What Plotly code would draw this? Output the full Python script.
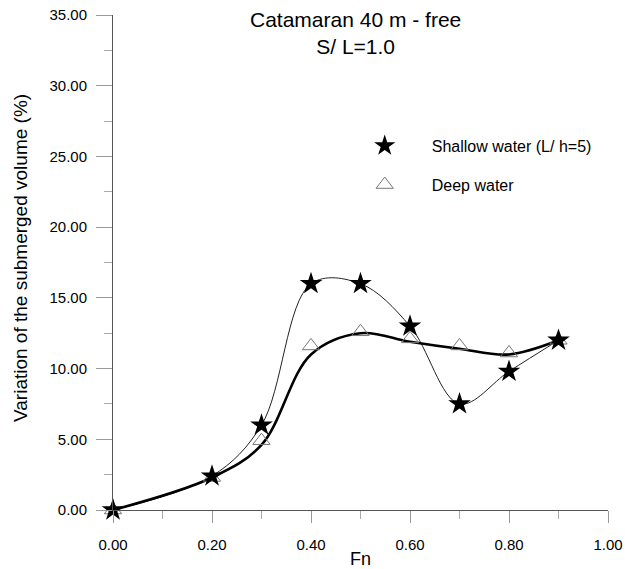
import plotly.graph_objects as go

fn = [0.0, 0.2, 0.3, 0.4, 0.5, 0.6, 0.7, 0.8, 0.9]
shallow = [0.0, 2.4, 6.0, 16.0, 16.0, 13.0, 7.5, 9.8, 12.0]
deep = [0.0, 2.3, 4.9, 11.6, 12.6, 12.1, 11.6, 11.1, 12.0]
deep_fit = [0.0, 2.3, 4.6, 11.0, 12.5, 11.9, 11.4, 11.0, 12.0]

FONT = "Liberation Sans, Arial, sans-serif"

fig = go.Figure()
fig.add_trace(go.Scatter(x=fn, y=shallow, mode="lines",
                         line=dict(color="#222", width=1, shape="spline", smoothing=1.0),
                         showlegend=False, hoverinfo="skip"))
fig.add_trace(go.Scatter(x=fn, y=deep_fit, mode="lines",
                         line=dict(color="#000", width=2.6, shape="spline", smoothing=1.0),
                         showlegend=False, hoverinfo="skip"))
fig.add_trace(go.Scatter(x=fn, y=deep, mode="markers", name="Deep water",
                         legendgroup="b", legendrank=2,
                         marker=dict(symbol="triangle-up-open", size=15,
                                     color="#777", line=dict(width=1, color="#777")),
                         cliponaxis=False))
fig.add_trace(go.Scatter(x=fn, y=shallow, mode="markers", name="Shallow water (L/ h=5)",
                         legendgroup="a", legendrank=1,
                         marker=dict(symbol="star", size=17, color="#000",
                                     line=dict(width=0)),
                         cliponaxis=False))

fig.update_layout(
    width=625, height=569,
    margin=dict(l=113, r=17, t=15, b=59),
    paper_bgcolor="white", plot_bgcolor="white",
    font=dict(family=FONT, size=15, color="#000"),
    showlegend=True,
    legend=dict(x=0.454, y=0.770, xanchor="left", yanchor="top",
                bgcolor="rgba(0,0,0,0)", font=dict(size=16),
                traceorder="grouped", tracegroupgap=15, itemwidth=84),
    annotations=[
        dict(text="Catamaran 40 m - free<br>S/ L=1.0", x=0.49, y=1.0, yshift=9,
             xref="paper", yref="paper", xanchor="center", yanchor="top",
             showarrow=False, font=dict(size=21, family=FONT)),
        dict(text="Variation of the submerged volume (%)", textangle=-90,
             x=-0.188, y=0.509, xref="paper", yref="paper",
             xanchor="center", yanchor="middle",
             showarrow=False, font=dict(size=19, family=FONT)),
    ],
)
fig.update_xaxes(range=[0, 1], tickvals=[0, 0.2, 0.4, 0.6, 0.8, 1.0],
                 ticktext=["0.00", "0.20", "0.40", "0.60", "0.80", "1.00"],
                 automargin=False, ticklabelstandoff=9,
                 showgrid=False, zeroline=False, showline=True, linecolor="#555", linewidth=1,
                 ticks="outside", ticklen=12, tickcolor="#999",
                 minor=dict(dtick=0.1, tick0=0, ticks="outside", ticklen=8, tickcolor="#aaa", showgrid=False),
                 title=dict(text="Fn", standoff=2, font=dict(size=18)))
fig.update_yaxes(range=[0, 35], tickvals=[0, 5, 10, 15, 20, 25, 30, 35],
                 ticktext=["0.00", "5.00", "10.00", "15.00", "20.00", "25.00", "30.00", "35.00"],
                 automargin=False,
                 showgrid=False, zeroline=False, showline=True, linecolor="#555", linewidth=1,
                 ticks="outside", ticklen=16, tickcolor="#999", ticklabelstandoff=6,
                 minor=dict(dtick=2.5, tick0=0, ticks="outside", ticklen=8, tickcolor="#aaa", showgrid=False))

fig.write_html("out.html")
